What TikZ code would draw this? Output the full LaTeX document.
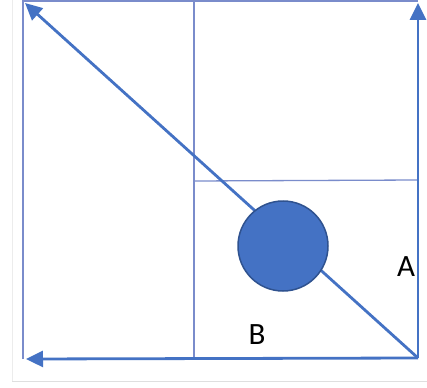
\documentclass[tikz,border=0pt]{standalone}
\usepackage{fontspec}
\setmainfont{Carlito}
\usetikzlibrary{arrows.meta}
\definecolor{thickblue}{HTML}{4472C4}
\definecolor{thinblue}{HTML}{7A8CCB}
\definecolor{darkblue}{HTML}{2F528F}
\tikzset{
  thickarrow/.style={draw=thickblue, line width=2.8pt, -{Triangle[length=17pt,width=16pt]}},
  thinline/.style={draw=thinblue, line width=1.3pt},
  lbl/.style={font=\fontsize{31}{31}\selectfont, inner sep=0pt}
}
\begin{document}
\begin{tikzpicture}[x=1pt,y=-1pt]
\useasboundingbox (0,0) rectangle (427,387);
\fill[white] (0,0) rectangle (427,387);
\draw[gray!25, line width=0.8pt] (12,381) -- (427,381);
\draw[gray!15, line width=0.8pt] (12,0) -- (12,381);
\coordinate (tl) at (23,1);
\coordinate (tr) at (418,1);
\coordinate (bl) at (23,359);
\coordinate (br) at (418,358);
\coordinate (vt) at (194,0);
\coordinate (vb) at (194,358);
\coordinate (hl) at (194,181);
\coordinate (hr) at (418,180);
\coordinate (tipd) at (25,3);
\coordinate (tipu) at (418,3);
\coordinate (tipl) at (26,359);
\draw[thinline] (bl) -- (tl) -- (tr);
\draw[thinline] (vt) -- (vb);
\draw[thinline] (hl) -- (hr);
\draw[thickarrow] (br) -- (tipd);
\draw[thickarrow] (br) -- (tipu);
\draw[thickarrow] (br) -- (tipl);
\node[circle, fill=thickblue, draw=darkblue, line width=1.5pt, minimum size=90pt, inner sep=0pt] (ball) at (283,246) {};
\node[lbl] (A) at (406,267) {A};
\node[lbl] (B) at (257,335) {B};
\end{tikzpicture}
\end{document}
